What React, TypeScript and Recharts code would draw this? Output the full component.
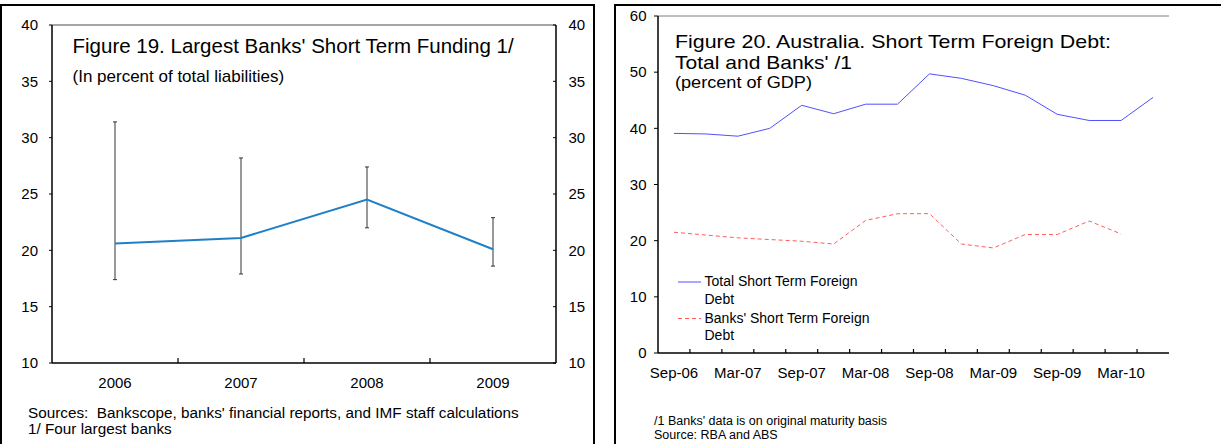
import { LineChart, Line, XAxis, YAxis, ErrorBar, ReferenceLine } from "recharts";

const FONT = '"Liberation Sans", Arial, sans-serif';

// Figure 19: largest banks' short term funding (% of total liabilities)
const years = ["2006", "2007", "2008", "2009"];
const fundingShare = [20.6, 21.1, 24.5, 20.1];
const fundingLow = [17.4, 17.9, 22.0, 18.6];
const fundingHigh = [31.4, 28.2, 27.4, 22.9];
const fig19Ticks = [10, 15, 20, 25, 30, 35, 40];

// Figure 20: short term foreign debt (% of GDP), quarterly
const quarters = [
  "Sep-06", "Dec-06", "Mar-07", "Jun-07", "Sep-07", "Dec-07", "Mar-08", "Jun-08",
  "Sep-08", "Dec-08", "Mar-09", "Jun-09", "Sep-09", "Dec-09", "Mar-10", "Jun-10",
];
const totalDebt = [39.1, 39.0, 38.6, 40.0, 44.1, 42.6, 44.3, 44.3, 49.7, 48.9, 47.6, 45.9, 42.5, 41.4, 41.4, 45.5];
const banksDebt = [21.5, 21.0, 20.5, 20.2, 19.9, 19.4, 23.6, 24.8, 24.8, 19.4, 18.7, 21.1, 21.1, 23.5, 21.2, null];
const fig20Ticks = [0, 10, 20, 30, 40, 50, 60];

const fig20Series = [
  { key: "total", name: ["Total Short Term Foreign", "Debt"], color: "#5050ff", dash: undefined },
  { key: "banks", name: ["Banks' Short Term Foreign", "Debt"], color: "#ff5c5c", dash: "4 3" },
];

const fig19Data = years.map((year, i) => ({
  year,
  value: fundingShare[i],
  err: [fundingShare[i] - fundingLow[i], fundingHigh[i] - fundingShare[i]],
}));

const fig20Data = quarters.map((quarter, i) => ({
  quarter,
  total: totalDebt[i],
  banks: banksDebt[i],
}));

// category tick: label at band centre, short inward tick at band boundary
function makeTick(band: number, tickLen: number, every: number) {
  return (props: any) => {
    const { x, y, payload } = props;
    const i = payload?.index ?? props.index ?? 0;
    return (
      <g>
        {i > 0 && (
          <line x1={x - band / 2} x2={x - band / 2} y1={y} y2={y - tickLen} stroke="#000" strokeWidth={1.2} />
        )}
        {i % every === 0 && (
          <text x={x} y={y + 25} textAnchor="middle" fontSize={15} fill="#000" fontFamily={FONT}>
            {payload.value}
          </text>
        )}
      </g>
    );
  };
}

// right-hand value tick: inward tick mark, label outside
function rightTick(props: any) {
  const { x, y, payload } = props;
  return (
    <g>
      <line x1={x} x2={x - 3} y1={y} y2={y} stroke="#000" strokeWidth={1} />
      <text x={x + 12.5} y={y} dy="0.355em" textAnchor="start" fontSize={15} fill="#000" fontFamily={FONT}>
        {payload.value}
      </text>
    </g>
  );
}

const axisBlack = { stroke: "#000", strokeWidth: 1.5 };
const tickText = { fill: "#000", fontSize: 15, fontFamily: FONT };

export default function App() {
  return (
    <div
      style={{
        position: "absolute",
        left: 0,
        top: 0,
        width: 1221,
        height: 444,
        background: "#fff",
        overflow: "hidden",
        fontFamily: FONT,
      }}
    >
      {/* panel frames */}
      <div style={{ position: "absolute", left: 0, top: 4, width: 594.5, height: 480, border: "2.5px solid #000", boxSizing: "border-box" }} />
      <div style={{ position: "absolute", left: 613.5, top: 4, width: 700, height: 480, border: "2.5px solid #000", boxSizing: "border-box" }} />

      {/* Figure 19 */}
      <div style={{ position: "absolute", left: 0, top: 0 }}>
        <LineChart width={600} height={444} data={fig19Data} margin={{ top: 25, right: 0, bottom: 51, left: 0 }}>
          <XAxis
            dataKey="year"
            scale="band"
            interval={0}
            tickLine={false}
            tickSize={0}
            tickMargin={0}
            height={30}
            axisLine={axisBlack}
            tick={makeTick(126, 5, 1)}
          />
          <YAxis
            yAxisId="l"
            domain={[10, 40]}
            ticks={fig19Ticks}
            width={52}
            tickSize={3}
            tickMargin={11}
            axisLine={axisBlack}
            tickLine={{ stroke: "#000" }}
            tick={tickText}
          />
          <YAxis
            yAxisId="r"
            orientation="right"
            type="number"
            domain={[10, 40]}
            allowDataOverflow
            ticks={fig19Ticks}
            width={44}
            tickSize={0}
            tickMargin={0}
            axisLine={axisBlack}
            tickLine={false}
            tick={rightTick}
          />
          <ReferenceLine yAxisId="l" y={40} stroke="#888" strokeWidth={1} />
          <ReferenceLine yAxisId="r" y={40} stroke="#888" strokeWidth={1} ifOverflow="extendDomain" />
          <Line
            yAxisId="l"
            dataKey="value"
            stroke="#1f80c8"
            strokeWidth={2}
            dot={false}
            isAnimationActive={false}
          >
            <ErrorBar dataKey="err" direction="y" width={2} stroke="#333" strokeWidth={1} isAnimationActive={false} />
          </Line>
        </LineChart>
      </div>

      {/* Figure 20 */}
      <div style={{ position: "absolute", left: 614, top: 0 }}>
        <LineChart width={607} height={444} data={fig20Data} margin={{ top: 16, right: 52, bottom: 61, left: 0 }}>
          <XAxis
            dataKey="quarter"
            scale="band"
            interval={0}
            tickLine={false}
            tickSize={0}
            tickMargin={0}
            height={30}
            axisLine={axisBlack}
            tick={makeTick(511 / 16, 4, 2)}
          />
          <YAxis
            yAxisId="l"
            domain={[0, 60]}
            ticks={fig20Ticks}
            width={44}
            tickSize={4}
            tickMargin={7.5}
            axisLine={axisBlack}
            tickLine={{ stroke: "#000" }}
            tick={tickText}
          />
          <YAxis
            yAxisId="r"
            orientation="right"
            domain={[0, 60]}
            allowDataOverflow
            width={0}
            tick={false}
            tickLine={false}
            axisLine={{ stroke: "#808080", strokeWidth: 1.2 }}
          />
          <ReferenceLine yAxisId="l" y={60} stroke="#808080" strokeWidth={1} />
          {fig20Series.map((s) => (
            <Line
              key={s.key}
              yAxisId="l"
              dataKey={s.key}
              stroke={s.color}
              strokeWidth={1}
              strokeDasharray={s.dash}
              dot={false}
              connectNulls={false}
              isAnimationActive={false}
            />
          ))}
        </LineChart>
      </div>

      {/* titles, legend and notes */}
      <svg
        width={1221}
        height={444}
        style={{ position: "absolute", left: 0, top: 0, pointerEvents: "none" }}
        fontFamily={FONT}
      >
        <text x={72.5} y={53} fontSize={20.5} fill="#000">
          Figure 19. Largest Banks' Short Term Funding 1/
        </text>
        <text x={72.5} y={82} fontSize={17} fill="#000">
          (In percent of total liabilities)
        </text>
        <text x={28} y={417.5} fontSize={15.3} fill="#000" style={{ whiteSpace: "pre" }}>
          {"Sources:  Bankscope, banks' financial reports, and IMF staff calculations"}
        </text>
        <text x={28} y={434} fontSize={15.3} fill="#000">
          1/ Four largest banks
        </text>

        <text x={675} y={47.5} fontSize={19} fill="#000" textLength={436} lengthAdjust="spacingAndGlyphs">
          Figure 20. Australia. Short Term Foreign Debt:
        </text>
        <text x={675} y={69} fontSize={19} fill="#000" textLength={177} lengthAdjust="spacingAndGlyphs">
          Total and Banks' /1
        </text>
        <text x={675} y={88} fontSize={16.5} fill="#000" textLength={137} lengthAdjust="spacingAndGlyphs">
          (percent of GDP)
        </text>

        {fig20Series.map((s, i) => (
          <g key={s.key}>
            <line
              x1={678}
              x2={701}
              y1={282 + i * 36.5}
              y2={282 + i * 36.5}
              stroke={s.color}
              strokeWidth={1}
              strokeDasharray={s.dash}
            />
            <text x={704.5} y={286 + i * 36.5} fontSize={14} fill="#000">
              <tspan x={704.5} y={286 + i * 36.5}>{s.name[0]}</tspan>
              <tspan x={704.5} y={303.5 + i * 36.5}>{s.name[1]}</tspan>
            </text>
          </g>
        ))}

        <text x={654} y={425} fontSize={12.5} fill="#000">
          /1 Banks' data is on original maturity basis
        </text>
        <text x={654} y={438.5} fontSize={12.5} fill="#000">
          Source: RBA and ABS
        </text>
      </svg>
    </div>
  );
}
